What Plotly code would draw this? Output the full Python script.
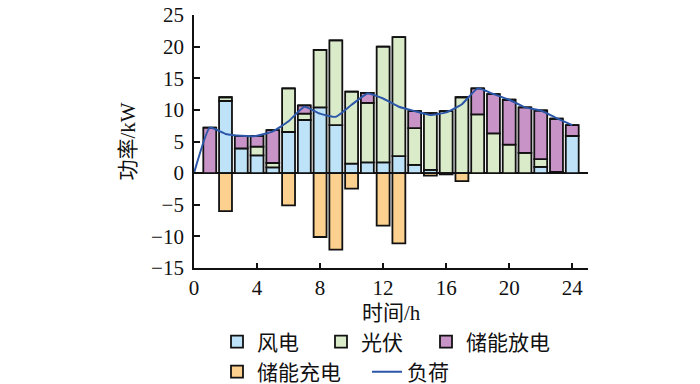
import plotly.graph_objects as go

hours = list(range(1, 25))
wind = [0.0, 11.4, 3.9, 2.8, 0.9, 6.5, 8.4, 10.4, 7.6, 1.5, 1.7, 1.7,
        2.7, 1.3, 0.5, 0.0, 0.0, 0.0, 0.0, 0.0, 0.0, 1.0, 0.0, 5.9]
pv = [0.0, 0.6, 0.0, 1.4, 0.7, 6.9, 1.0, 9.1, 13.4, 11.4, 9.4, 18.3,
      18.8, 5.8, 9.0, 9.8, 12.0, 9.3, 6.3, 4.5, 3.2, 1.2, 0.2, 0.0]
discharge = [7.2, 0.0, 2.0, 1.7, 5.2, 0.0, 1.3, 0.0, 0.0, 0.0, 1.6, 0.0,
             0.0, 2.7, 0.0, 0.0, 0.0, 4.1, 6.2, 7.1, 7.2, 7.7, 8.4, 1.7]
charge = [0.0, -6.0, 0.0, 0.0, 0.0, -5.1, 0.0, -10.1, -12.1, -2.45, 0.0, -8.3,
          -11.1, 0.0, -0.4, -0.2, -1.25, 0.0, 0.0, 0.0, 0.0, 0.0, 0.0, 0.0]
load_hours = list(range(0, 25))
load = [0.0, 7.2, 6.2, 5.9, 5.9, 6.6, 8.2, 10.5, 9.4, 8.9, 10.8, 12.6, 11.8,
        10.5, 9.8, 9.2, 9.6, 10.9, 13.4, 12.5, 11.6, 10.4, 9.9, 8.7, 7.6]
x_title = "时间/h"
y_title = "功率/kW"

font_family = "Liberation Serif, Noto Sans CJK SC, serif"
outline = dict(color="#111111", width=1.8)
bw = 0.82

# page has an 8px body margin; figure is sized so that it fills the 700x384 window
W, H = 692, 376
OFF = 8
PLOT_TOP, PLOT_BOTTOM = 15, 268  # page pixels

fig = go.Figure()
fig.add_bar(x=hours, y=wind, name="风电", width=bw, legend="legend",
            marker=dict(color="#BEE3F8", line=outline))
fig.add_bar(x=hours, y=pv, name="光伏", width=bw, legend="legend2",
            marker=dict(color="#DAEBC9", line=outline))
fig.add_bar(x=hours, y=discharge, name="储能放电", width=bw, legend="legend3",
            marker=dict(color="#C893C6", line=outline))
fig.add_bar(x=hours, y=charge, name="储能充电", width=bw, legend="legend4",
            marker=dict(color="#FCD18F", line=outline))
fig.add_scatter(x=load_hours, y=load, name="负荷", mode="lines", legend="legend5",
                line=dict(color="#2C56A8", width=2, shape="spline", smoothing=0.4))


def leg(px, py):
    return dict(orientation="h", xref="container", yref="container",
                xanchor="left", yanchor="middle",
                x=(px - OFF) / W, y=1 - (py - OFF) / H,
                font=dict(size=21), itemwidth=30,
                bgcolor="rgba(0,0,0,0)")


fig.update_layout(
    width=W, height=H,
    barmode="relative",
    plot_bgcolor="white", paper_bgcolor="white",
    margin=dict(l=194 - OFF, r=112, t=PLOT_TOP - OFF, b=116, autoexpand=False),
    font=dict(family=font_family, size=21, color="#111111"),
    legend=leg(217, 342),
    legend2=leg(321, 342),
    legend3=leg(426, 342),
    legend4=leg(217, 372),
    legend5=leg(367, 372),
    showlegend=True,
)
fig.add_annotation(text=x_title, xref="paper", yref="paper",
                   x=0.5, y=-(313 - PLOT_BOTTOM) / (PLOT_BOTTOM - PLOT_TOP),
                   xanchor="center", yanchor="middle", showarrow=False,
                   font=dict(size=21))
fig.update_xaxes(range=[0, 25], tickvals=[0, 4, 8, 12, 16, 20, 24],
                 ticks="inside", ticklen=5, tickwidth=1.5, tickcolor="#111111",
                 showline=True, linecolor="#111111", linewidth=1.8,
                 showgrid=False, zeroline=False, ticklabelstandoff=0)
fig.update_yaxes(range=[-15, 25], tickvals=[-15, -10, -5, 0, 5, 10, 15, 20, 25],
                 ticktext=["−15", "−10", "−5", "0", "5", "10", "15", "20", "25"],
                 ticks="inside", ticklen=6, tickwidth=1.5, tickcolor="#111111",
                 showline=True, linecolor="#111111", linewidth=1.8,
                 showgrid=False, zeroline=True, zerolinecolor="#111111", zerolinewidth=1.8,
                 ticklabelstandoff=4, ticklabeloverflow="allow",
                 automargin=True,
                 title=dict(text=y_title, standoff=10, font=dict(size=21)))

fig.write_html("out.html")
